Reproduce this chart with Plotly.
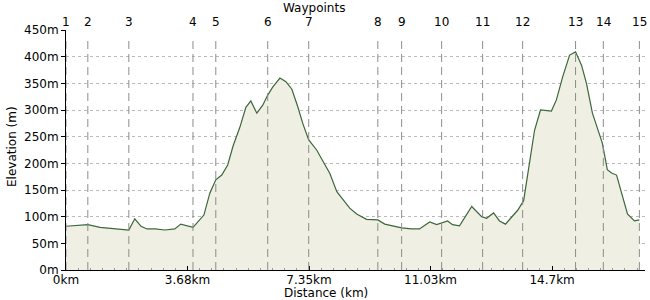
import plotly.graph_objects as go

# Elevation profile (distance km, elevation m)
distance_km = [0.00, 0.66, 1.03, 1.90, 2.08, 2.27, 2.45, 2.69, 2.99, 3.29, 3.47, 3.84,
               4.17, 4.35, 4.53, 4.71, 4.89, 5.05, 5.26, 5.44, 5.59, 5.77, 5.95, 6.10,
               6.25, 6.47, 6.65, 6.83, 7.01, 7.16, 7.34, 7.58, 7.98, 8.19, 8.58, 8.79,
               9.09, 9.43, 9.64, 10.15, 10.45, 10.69, 11.00, 11.21, 11.54, 11.69, 11.90,
               12.27, 12.57, 12.72, 12.93, 13.11, 13.29, 13.66, 13.84, 14.02, 14.08, 14.17,
               14.35, 14.68, 14.83, 15.02, 15.23, 15.41, 15.59, 15.74, 15.92, 16.22, 16.37,
               16.50, 16.65, 16.80, 16.98, 17.19, 17.34]
elevation_m = [82, 85, 80, 75, 96, 82, 77, 77, 75, 77, 86, 80,
               103, 144, 169, 178, 197, 232, 268, 305, 317, 294, 309, 328,
               343, 360, 353, 339, 306, 275, 244, 225, 181, 147, 116, 105,
               95, 94, 86, 79, 77, 77, 90, 85, 92, 85, 83,
               119, 100, 97, 107, 92, 86, 112, 130, 200, 231, 262,
               300, 298, 319, 362, 403, 409, 384, 350, 294, 238, 188,
               182, 178, 144, 105, 92, 94]

waypoint_km = [0.00, 0.66, 1.90, 3.84, 4.53, 6.10, 7.34, 9.43, 10.15, 11.36, 12.60,
               13.81, 15.41, 16.25, 17.34]
waypoint_labels = [str(i) for i in range(1, 16)]

x_tick_vals = [0, 3.675, 7.35, 11.025, 14.7]
x_tick_text = ["0km", "3.68km", "7.35km", "11.03km", "14.7km"]
y_tick_vals = [0, 50, 100, 150, 200, 250, 300, 350, 400, 450]
y_tick_text = ["0m", "50m", "100m", "150m", "200m", "250m", "300m", "350m", "400m", "450m"]

FONT = "DejaVu Sans"

fig = go.Figure()
fig.add_trace(go.Scatter(
    x=distance_km, y=elevation_m, mode="lines",
    line=dict(color="#3c673a", width=1.2),
    fill="tozeroy", fillcolor="#f0efe4",
    hoverinfo="skip", showlegend=False,
))

for wx, wl in zip(waypoint_km, waypoint_labels):
    fig.add_shape(type="line", xref="x", yref="paper", x0=wx, x1=wx, y0=0, y1=0.97,
                  line=dict(color="#8c8c8c", width=1, dash="8px,5px"), layer="above")
    fig.add_annotation(x=wx, xref="x", y=1, yref="paper", yanchor="bottom",
                       text=wl, showarrow=False, yshift=-1,
                       font=dict(family=FONT, size=12, color="black"))

fig.add_annotation(x=(314 - 66) / 579, xref="paper", y=1, yref="paper",
                   yanchor="middle", yshift=22, text="Waypoints", showarrow=False,
                   font=dict(family=FONT, size=12, color="black"))
fig.add_annotation(x=(326 - 66) / 579, xref="paper", y=0, yref="paper",
                   yanchor="top", yshift=-15, text="Distance (km)", showarrow=False,
                   borderpad=0,
                   font=dict(family=FONT, size=12, color="black"))
fig.add_annotation(x=(12 - 66) / 579, xref="paper", y=(270 - 147) / 240, yref="paper",
                   xanchor="center", yanchor="middle", textangle=-90,
                   text="Elevation (m)", showarrow=False,
                   font=dict(family=FONT, size=12, color="black"))

fig.update_layout(
    width=650, height=300,
    margin=dict(l=66, r=5, t=30, b=30),
    paper_bgcolor="white", plot_bgcolor="white",
    font=dict(family=FONT, size=12, color="black"),
    xaxis=dict(range=[0, 17.51], tickmode="array", tickvals=x_tick_vals,
               ticktext=x_tick_text, showgrid=False, zeroline=False,
               showline=True, linecolor="black", linewidth=1,
               ticks="inside", ticklen=4, tickcolor="black",
               ticklabelstandoff=-1,
               tickfont=dict(family=FONT, size=12, color="black"),
               minor=dict(dtick=0.3675, tick0=0, ticks="inside", ticklen=2,
                          tickcolor="#999999", showgrid=False),
               fixedrange=True),
    yaxis=dict(range=[0, 450], tickmode="array", tickvals=y_tick_vals,
               ticktext=y_tick_text, showgrid=True, gridcolor="#bbbbbb",
               griddash="dot", gridwidth=1, zeroline=False,
               showline=True, linecolor="black", linewidth=1,
               ticks="outside", ticklen=4, tickcolor="black",
               tickfont=dict(family=FONT, size=12, color="black"),
               fixedrange=True),
)

fig.write_html("out.html")
